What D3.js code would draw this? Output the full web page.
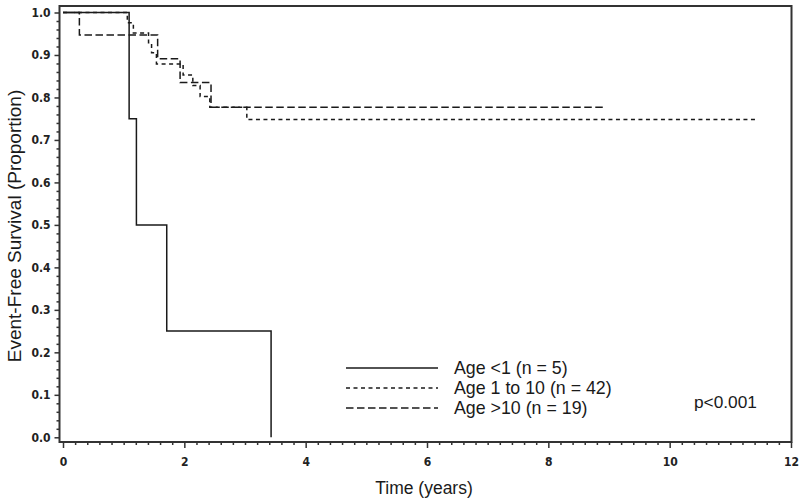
<!DOCTYPE html>
<html>
<head>
<meta charset="utf-8">
<script src="https://cdn.jsdelivr.net/npm/d3@7"></script>
<style>
  html, body { margin: 0; padding: 0; background: #fff; }
  svg { display: block; }
  .tick text { font-family: "DejaVu Sans Condensed", "Liberation Sans Narrow", "Arial Narrow", sans-serif; font-stretch: condensed; font-size: 12px; font-weight: bold; fill: #222; }
</style>
</head>
<body>
<svg id="chart" width="800" height="501"></svg>
<script>
// ---- data ----
const groups = ["Age <1 (n = 5)", "Age 1 to 10 (n = 42)", "Age >10 (n = 19)"];
const timesLt1 = [0, 1.09, 1.21, 1.71, 3.43];
const survLt1  = [1, 0.75, 0.50, 0.25, 0.0];
const times1to10 = [0, 1.06, 1.16, 1.41, 1.46, 1.54, 1.98, 2.14, 2.26, 2.42, 3.03, 11.44];
const surv1to10  = [1, 0.976, 0.952, 0.929, 0.905, 0.879, 0.853, 0.828, 0.802, 0.777, 0.748, 0.748];
const timesGt10 = [0, 0.27, 1.56, 1.93, 2.44, 8.90];
const survGt10  = [1, 0.947, 0.891, 0.835, 0.777, 0.777];
const xTicks = [0, 2, 4, 6, 8, 10, 12];
const yTicks = [0, 0.1, 0.2, 0.3, 0.4, 0.5, 0.6, 0.7, 0.8, 0.9, 1.0];
const pText = "p<0.001";
const xTitle = "Time (years)";
const yTitle = "Event-Free Survival (Proportion)";

// ---- layout ----
const svg = d3.select("#chart");
const frame = { left: 59.5, right: 791.5, top: 6, bottom: 442 };
const x = d3.scaleLinear().domain([0, 12]).range([63, 791]);
const y = d3.scaleLinear().domain([0, 1]).range([437.3, 12.5]);
const ink = "#1a1a1a";
const font = "Liberation Sans, Arial, sans-serif";

// frame
svg.append("rect")
  .attr("x", frame.left).attr("y", frame.top)
  .attr("width", frame.right - frame.left).attr("height", frame.bottom - frame.top)
  .attr("fill", "none").attr("stroke", "#333").attr("stroke-width", 2);

// x axis major
const xAxis = d3.axisBottom(x).tickValues(xTicks).tickFormat(d3.format("d"))
  .tickSize(6).tickSizeOuter(0).tickPadding(9);
const gx = svg.append("g").attr("transform", `translate(0,${frame.bottom})`).call(xAxis);
gx.select(".domain").remove();
gx.selectAll(".tick line").attr("stroke", "#333").attr("stroke-width", 1.5);

// x axis minor
const xMinor = d3.range(0, 12.001, 0.2).filter(v => Math.abs(v / 2 - Math.round(v / 2)) > 1e-6);
const gxm = svg.append("g").attr("transform", `translate(0,${frame.bottom})`)
  .call(d3.axisBottom(x).tickValues(xMinor).tickSize(3).tickFormat(""));
gxm.select(".domain").remove();
gxm.selectAll(".tick line").attr("stroke", "#333").attr("stroke-width", 1.5);

// y axis major
const yAxis = d3.axisLeft(y).tickValues(yTicks).tickFormat(d3.format(".1f"))
  .tickSize(5).tickSizeOuter(0).tickPadding(4);
const gy = svg.append("g").attr("transform", `translate(${frame.left},0)`).call(yAxis);
gy.select(".domain").remove();
gy.selectAll(".tick line").attr("stroke", "#333").attr("stroke-width", 1.5);

// y axis minor
const yMinor = d3.range(0, 1.0001, 0.02).filter(v => Math.abs(v * 10 - Math.round(v * 10)) > 1e-6);
const gym = svg.append("g").attr("transform", `translate(${frame.left},0)`)
  .call(d3.axisLeft(y).tickValues(yMinor).tickSize(3).tickFormat(""));
gym.select(".domain").remove();
gym.selectAll(".tick line").attr("stroke", "#333").attr("stroke-width", 1.5);

// axis titles
svg.append("text").attr("x", 424).attr("y", 494).attr("text-anchor", "middle")
  .attr("font-family", font).attr("font-size", 17.5).attr("fill", ink)
  .text(xTitle);
svg.append("text").attr("transform", "translate(21,226) rotate(-90)").attr("text-anchor", "middle")
  .attr("font-family", font).attr("font-size", 19).attr("fill", ink)
  .text(yTitle);

// curves
const line = d3.line().x(d => x(d[0])).y(d => y(d[1])).curve(d3.curveStepAfter);
const series = [
  { times: timesLt1, surv: survLt1, dash: null },
  { times: times1to10, surv: surv1to10, dash: "4,3.5" },
  { times: timesGt10, surv: survGt10, dash: "7.5,3.5" }
];
series.forEach(s => {
  const pts = s.times.map((t, i) => [t, s.surv[i]]);
  svg.append("path").datum(pts).attr("d", line)
    .attr("fill", "none").attr("stroke", ink).attr("stroke-width", 1.5)
    .attr("stroke-dasharray", s.dash);
});

// legend
const legY = [368, 388, 408];
groups.forEach((g, i) => {
  svg.append("line").attr("x1", 346).attr("x2", 438).attr("y1", legY[i]).attr("y2", legY[i])
    .attr("stroke", ink).attr("stroke-width", 1.5).attr("stroke-dasharray", series[i].dash);
  svg.append("text").attr("x", 454).attr("y", legY[i]).attr("dy", "0.35em")
    .attr("font-family", font).attr("font-size", 17.8).attr("fill", ink)
    .text(g);
});
svg.append("text").attr("x", 694).attr("y", 402).attr("dy", "0.35em")
  .attr("font-family", font).attr("font-size", 17.3).attr("fill", ink)
  .text(pText);
</script>
</body>
</html>
